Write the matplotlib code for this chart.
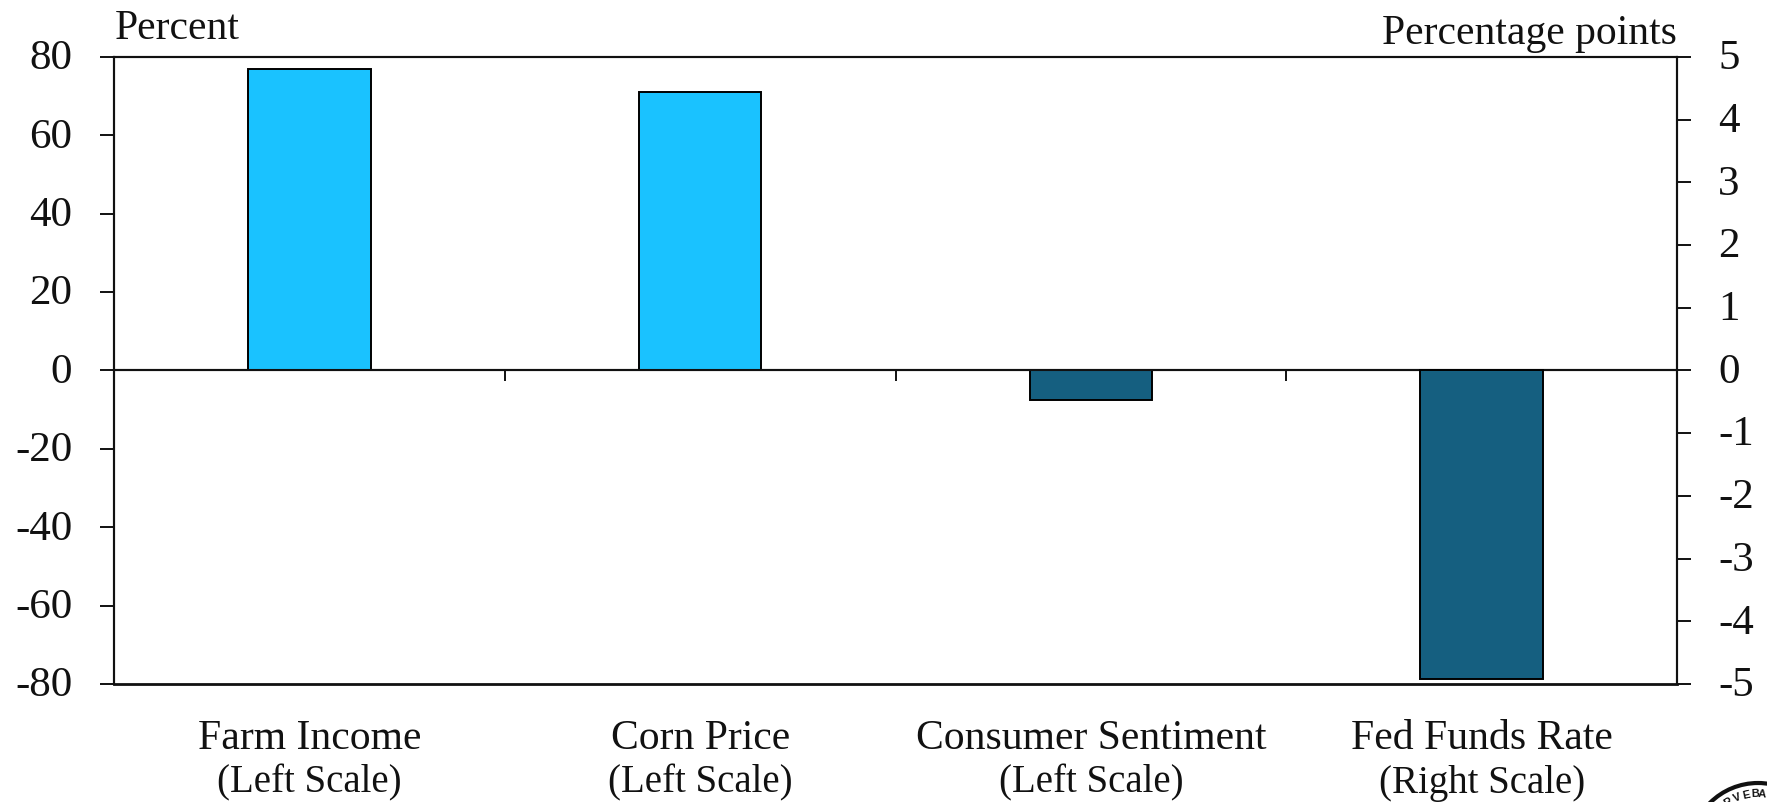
import math
import matplotlib
matplotlib.use("Agg")
import matplotlib.pyplot as plt
from matplotlib.patches import Circle
from matplotlib.transforms import Affine2D, ScaledTranslation

category_names = ["Farm Income", "Corn Price", "Consumer Sentiment", "Fed Funds Rate"]
category_scales = ["(Left Scale)", "(Left Scale)", "(Left Scale)", "(Right Scale)"]
left_values = [76.9, 71.0, -7.5]
right_values = [-4.92]
left_colors = ["#1AC2FF", "#1AC2FF", "#155F80"]
right_colors = ["#155F80"]
left_ticks = [-80, -60, -40, -20, 0, 20, 40, 60, 80]
right_ticks = [-5, -4, -3, -2, -1, 0, 1, 2, 3, 4, 5]

W, H = 1767, 802
INK = "#111111"
plt.rcParams['font.family'] = ['Liberation Serif', 'DejaVu Serif']
fig = plt.figure(figsize=(W / 100, H / 100), dpi=100, facecolor="white")
L, R, T, B = 114, 1677, 57, 684
ax = fig.add_axes([L / W, 1 - B / H, (R - L) / W, (B - T) / H])
ax2 = ax.twinx()

xl = list(range(len(left_values)))
xr = [len(left_values) + i for i in range(len(right_values))]
bw = 0.313
ax.bar(xl, left_values, bw, color=left_colors, edgecolor="black", linewidth=1.4, zorder=3)
ax2.bar(xr, right_values, bw, color=right_colors, edgecolor="black", linewidth=1.4, zorder=3)

ax.set_xlim(-0.5, 3.5)
ax.set_ylim(-80, 80)
ax2.set_ylim(-5, 5)

ax.set_yticks(left_ticks)
ax.set_yticklabels([str(v) for v in left_ticks])
ax2.set_yticks(right_ticks)
ax2.set_yticklabels([str(v) for v in right_ticks])
ax.tick_params(axis="y", length=10, width=1.4, labelsize=31, pad=20, colors=INK)
ax2.tick_params(axis="y", length=10, width=1.4, labelsize=31, pad=19.5, colors=INK)

# lift tick labels so the digits centre on their ticks
lift = ScaledTranslation(0, 2.5 / 100, fig.dpi_scale_trans)
for lab in ax.get_yticklabels() + ax2.get_yticklabels():
    lab.set_transform(lab.get_transform() + lift)

# category axis runs along zero, with ticks between the categories
ax.spines["bottom"].set_position(("data", 0))
ax.set_xticks([0.5, 1.5, 2.5])
ax.set_xticklabels([])
ax.tick_params(axis="x", length=8, width=1.4, direction="out", color=INK)
for a in (ax, ax2):
    for s in a.spines.values():
        s.set_linewidth(1.5)
        s.set_color(INK)
ax2.spines["bottom"].set_visible(False)
ax.axhline(-80, color=INK, lw=2.0, clip_on=False, zorder=4)
ax.axhline(0, color=INK, lw=1.5, zorder=5)

trans = ax.get_xaxis_transform()
for i, (name, scale) in enumerate(zip(category_names, category_scales)):
    ax.text(i, -(739 - B) / (B - T), name, transform=trans, ha="center", va="center",
            fontsize=30, color=INK)
    ax.text(i, -(783 - B) / (B - T), scale, transform=trans, ha="center", va="center",
            fontsize=28, color=INK)

fig.text(115 / W, 1 - 39 / H, "Percent", fontsize=30, ha="left", va="baseline", color=INK)
fig.text(1677 / W, 1 - 44 / H, "Percentage points", fontsize=30, ha="right", va="baseline", color=INK)

# partially visible seal in the bottom right corner
cx, cy, r = 1758, 851, 68
to_px = Affine2D().scale(1, -1).translate(0, H)
fig.add_artist(Circle((cx, cy), r, fill=False, edgecolor="#111111", lw=3.0, transform=to_px))
seal_letters = ["R", "V", "E", "B", "A"]
seal_xpos = [1728, 1737, 1746, 1755, 1762]
for ch, x in zip(seal_letters, seal_xpos):
    ang = math.asin((x - cx) / (r - 11))
    y = cy - (r - 11) * math.cos(ang)
    fig.text(x / W, 1 - y / H, ch, fontsize=8, fontweight="bold", color=INK,
             ha="center", va="center", rotation=-math.degrees(ang),
             rotation_mode="anchor", family="Liberation Sans")

fig.savefig("out.png", dpi=100, facecolor="white")
